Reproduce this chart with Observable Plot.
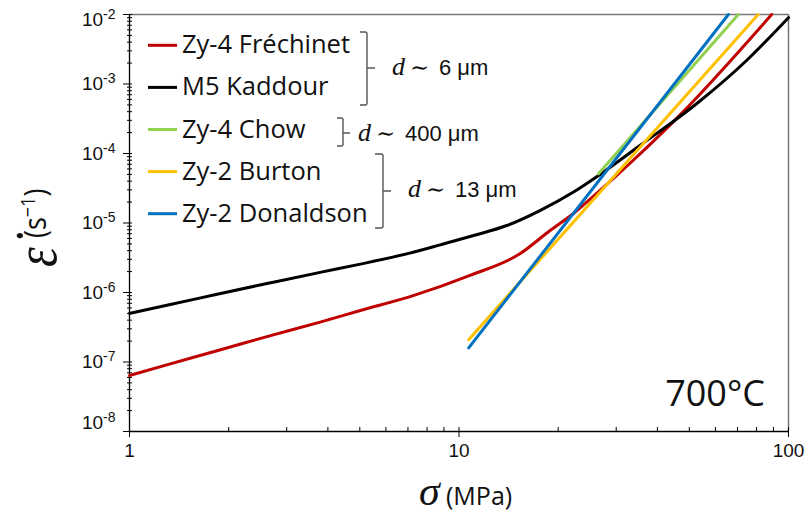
<!DOCTYPE html>
<html><head><meta charset="utf-8">
<script src="https://cdn.jsdelivr.net/npm/d3@7"></script>
<script src="https://cdn.jsdelivr.net/npm/@observablehq/plot@0.6"></script>
<style>body{margin:0;background:#fff} svg{display:block}</style>
</head><body><div id="chart"></div>
<script>
// ---- data ----
const seriesNames = ["Zy-4 Fréchinet", "M5 Kaddour", "Zy-4 Chow", "Zy-2 Burton", "Zy-2 Donaldson"];
const seriesColors = ["#C00000", "#000000", "#92D050", "#FFC000", "#0070C0"];

const sigmaFrechinet = [1, 1.33, 1.89, 2.68, 3.79, 5.02, 7.26, 10.8, 15.3, 18.9, 22.2, 26.8, 33.8, 46.9, 88.9];
const rateFrechinet  = [6.4e-8, 9.4e-8, 1.5e-7, 2.4e-7, 3.75e-7, 5.5e-7, 9.0e-7, 1.76e-6, 3.6e-6, 7.8e-6, 1.36e-5, 2.94e-5, 8.0e-5, 3.6e-4, 1e-2];

const sigmaKaddour = [1, 1.33, 1.89, 2.68, 3.79, 5.02, 7.26, 8.77, 11.07, 13.97, 17.6, 22.2, 26.8, 35.4, 52.6, 74.6, 100];
const rateKaddour  = [5.0e-7, 6.7e-7, 9.7e-7, 1.38e-6, 1.95e-6, 2.56e-6, 3.8e-6, 4.85e-6, 6.6e-6, 9.2e-6, 1.51e-5, 2.77e-5, 5.0e-5, 1.3e-4, 5.2e-4, 2.18e-3, 9.0e-3];

const sigmaChow = [26.5, 70.4];
const rateChow  = [5.1e-5, 1e-2];

const sigmaBurton = [10.7, 80.9];
const rateBurton  = [2.09e-7, 1e-2];

const sigmaDonaldson = [10.7, 65.7];
const rateDonaldson  = [1.6e-7, 1e-2];

const yTickValues = [1e-8, 1e-7, 1e-6, 1e-5, 1e-4, 1e-3, 1e-2];
const yTickExps   = ["-8", "-7", "-6", "-5", "-4", "-3", "-2"];
const xTickValues = [1, 10, 100];
const xTickLabels = ["1", "10", "100"];

const groupSizes = ["6 μm", "400 μm", "13 μm"];
const tempLabel = "700°C";

// ---- build table ----
const sigmas = [sigmaFrechinet, sigmaKaddour, sigmaChow, sigmaBurton, sigmaDonaldson];
const rates = [rateFrechinet, rateKaddour, rateChow, rateBurton, rateDonaldson];
const rows = [];
seriesNames.forEach((name, k) => {
  sigmas[k].forEach((s, i) => rows.push({series: name, sigma: s, rate: rates[k][i]}));
});

// minor tick positions
const yMinor = [];
for (let e = -8; e < -2; e++) for (let m = 2; m <= 9; m++) yMinor.push(m * Math.pow(10, e));
const xMinor = [];
for (let e = 0; e < 2; e++) for (let m = 2; m <= 9; m++) xMinor.push(m * Math.pow(10, e));

const chart = Plot.plot({
  width: 809, height: 514,
  marginLeft: 129, marginRight: 21, marginTop: 14, marginBottom: 83,
  style: {background: "#fff", fontFamily: "'Liberation Sans', Arial, sans-serif", fontSize: "19px", color: "#111", overflow: "visible"},
  x: {type: "log", domain: [1, 100]},
  y: {type: "log", domain: [1e-8, 1e-2]},
  color: {domain: seriesNames, range: seriesColors},
  marks: [
    Plot.ruleX([100], {stroke: "#777", strokeWidth: 1.5}),
    Plot.ruleY([1e-2], {stroke: "#777", strokeWidth: 1.5}),
    Plot.ruleX([1], {stroke: "#000", strokeWidth: 1.3}),
    Plot.ruleY([1e-8], {stroke: "#000", strokeWidth: 1.3}),
    Plot.axisY({ticks: yTickValues, tickSize: 9, dx: 3, tickFormat: () => "", label: null, stroke: "#000"}),
    Plot.axisY({ticks: yMinor, tickSize: 5, dx: 3, tickFormat: () => "", label: null, stroke: "#000"}),
    Plot.axisY({ticks: yTickValues, tickSize: 0, tickPadding: 14,
      tickFormat: d => "10^" + yTickExps[yTickValues.indexOf(d)], label: null}),
    Plot.axisX({ticks: xTickValues, tickSize: 10, dy: -4, tickFormat: () => "", label: null, stroke: "#000"}),
    Plot.axisX({ticks: xMinor, tickSize: 4, dy: -4, tickFormat: () => "", label: null, stroke: "#000"}),
    Plot.axisX({ticks: xTickValues, tickSize: 0, tickPadding: 12,
      tickFormat: d => xTickLabels[xTickValues.indexOf(d)], label: null}),
    Plot.line(rows, {x: "sigma", y: "rate", z: "series", stroke: "series", strokeWidth: 3, curve: "monotone-x"})
  ]
});
document.getElementById("chart").appendChild(chart);

const svg = d3.select(chart);

// tick label font size
svg.selectAll('g[aria-label="y-axis tick label"], g[aria-label="x-axis tick label"]')
  .attr("font-size", null).style("font-size", "19px");
svg.selectAll('g[aria-label="y-axis tick label"] text, g[aria-label="x-axis tick label"] text')
  .attr("font-size", null).style("font-size", "19px").attr("fill", "#111");

// superscript y tick labels
svg.selectAll('g[aria-label="y-axis tick label"] text').each(function() {
  const t = this.textContent;
  if (!t.startsWith("10^")) return;
  const exp = t.slice(3);
  const sel = d3.select(this);
  sel.text(null);
  sel.append("tspan").text("10");
  sel.append("tspan").attr("dy", -7).style("font-size", "14px").text(exp);
  const tr = sel.attr("transform") || "";
  if (exp === "-2") sel.attr("transform", tr + " translate(0,5)");
  if (exp === "-8") sel.attr("transform", tr + " translate(0,-9)");
});

const ann = svg.append("g").attr("text-anchor", "start");

// legend
seriesNames.forEach((name, i) => {
  const base = 53.3 + i * 42.1;
  ann.append("line").attr("x1", 148).attr("x2", 177).attr("y1", base - 8).attr("y2", base - 8)
    .attr("stroke", seriesColors[i]).attr("stroke-width", 3);
  ann.append("text").attr("x", 182).attr("y", base)
    .attr("font-family", "'Open Sans', sans-serif").attr("font-size", 25.5).attr("fill", "#111").text(name);
});

// brackets
const brackets = [
  {x: 367, top: 32, bottom: 105, mid: 68, hook: 7, tick: 8},
  {x: 343, top: 118, bottom: 146, mid: 133, hook: 6, tick: 7},
  {x: 383, top: 154, bottom: 228, mid: 191, hook: 8, tick: 8}
];
brackets.forEach(b => {
  ann.append("path")
    .attr("d", `M${b.x - b.hook},${b.top} L${b.x - 2},${b.top} Q${b.x},${b.top} ${b.x},${b.top + 2} L${b.x},${b.bottom - 2} Q${b.x},${b.bottom} ${b.x - 2},${b.bottom} L${b.x - b.hook},${b.bottom} M${b.x},${b.mid} L${b.x + b.tick},${b.mid}`)
    .attr("fill", "none").attr("stroke", "#555").attr("stroke-width", 1.4);
});

// bracket labels
const annPos = [{x: 392, y: 75}, {x: 358, y: 141}, {x: 408, y: 197}];
annPos.forEach((p, i) => {
  const t = ann.append("text").attr("y", p.y).attr("fill", "#111");
  t.append("tspan").attr("x", p.x).attr("font-family", "'Liberation Serif', serif").attr("font-style", "italic").attr("font-size", 26).text("d");
  t.append("tspan").attr("x", p.x + 18).attr("font-family", "'DejaVu Serif', serif").attr("font-size", 23).text("∼");
  t.append("tspan").attr("x", p.x + 47).attr("font-family", "'Liberation Sans', Arial, sans-serif").attr("font-size", 22).text(groupSizes[i]);
});

// temperature label
ann.append("text").attr("x", 765).attr("y", 406).attr("text-anchor", "end")
  .attr("font-family", "'Open Sans', sans-serif").attr("font-size", 36).attr("fill", "#111").text(tempLabel);

// x axis label
const xl = ann.append("text").attr("y", 505).attr("fill", "#111");
xl.append("tspan").attr("x", 419).attr("font-family", "'Liberation Serif', serif").attr("font-style", "italic").attr("font-size", 42).text("σ");
xl.append("tspan").attr("x", 446).attr("font-family", "'Open Sans', sans-serif").attr("font-size", 25).text("(MPa)");

// y axis label (rotated)
const yl = ann.append("g").attr("transform", "translate(56,267) rotate(-90)");
yl.append("text").attr("transform", "scale(1,1.2)").attr("font-family", "'Liberation Serif', serif")
  .attr("font-style", "italic").attr("font-size", 50).attr("fill", "#111").text("ε\u0307");
const ys = yl.append("text").attr("transform", "translate(29,-10) scale(1,1.15)")
  .attr("font-family", "'Open Sans', sans-serif").attr("font-size", 27).attr("fill", "#111");
ys.append("tspan").text("(s");
ys.append("tspan").attr("dy", -10).attr("font-size", 18).text("−1");
ys.append("tspan").attr("dy", 10).text(")");
</script>
</body></html>
